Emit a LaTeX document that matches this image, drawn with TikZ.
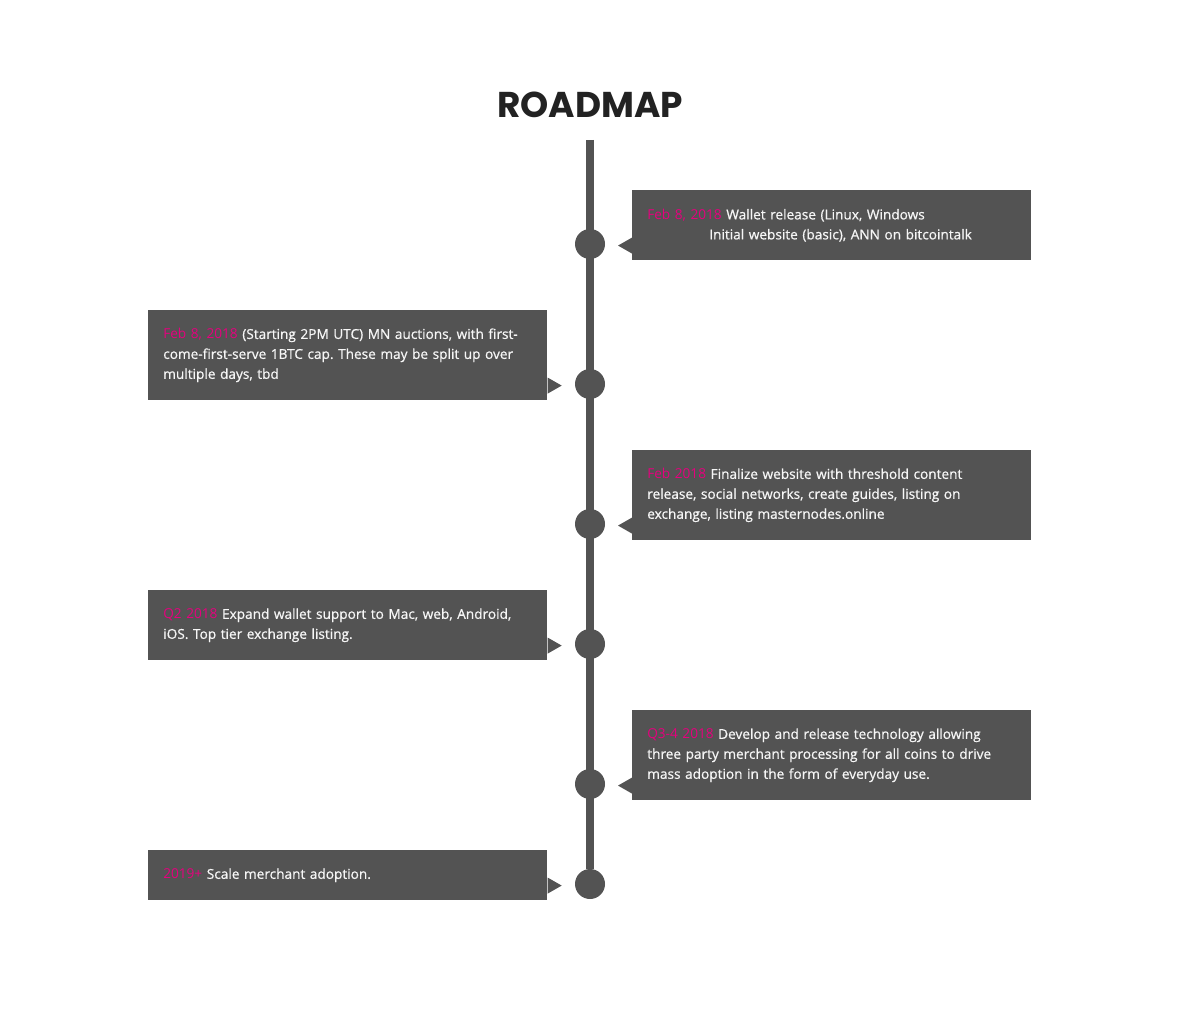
\documentclass[tikz,border=0pt]{standalone}
\usepackage{fontspec}
\setmainfont{Open Sans}
\newfontfamily\descfont{Open Sans}[FakeBold=0.7]
\newfontfamily\datefont{Open Sans}
\newfontfamily\titlefont{Poppins}
\usetikzlibrary{positioning}
\definecolor{RoadGrey}{RGB}{83,83,83}
\definecolor{DatePink}{RGB}{230,0,126}
\definecolor{TextWhite}{RGB}{246,246,246}
\definecolor{TitleBlack}{RGB}{34,34,34}
\newcommand{\when}[1]{{\datefont\textcolor{DatePink}{#1}}}

\begin{document}
\begin{tikzpicture}[x=0.025cm,y=-0.025cm,
    stepbox/.style={fill=RoadGrey,text=TextWhite,anchor=north west,inner xsep=0.375cm,inner ysep=0pt,
      text width=9.225cm,align=left,font=\descfont\frenchspacing\fontsize{9.7}{14.2}\selectfont},
    milestone/.style={circle,fill=RoadGrey,minimum size=0.75cm,inner sep=0pt}]
    \useasboundingbox (0,0) rectangle (1187,1016);
    \node[font=\titlefont\bfseries\fontsize{25.5}{30}\selectfont,text=TitleBlack] (title) at (590,105) {ROADMAP};
    % boxes
    \node[stepbox,minimum height=1.75cm] (s1) at (632,190) {\when{Feb 8, 2018} Wallet release (Linux, Windows\\\hspace*{1.55cm}Initial website (basic), ANN on bitcointalk};
    \node[stepbox,minimum height=2.25cm] (s2) at (148,310) {\when{Feb 8, 2018} (Starting 2PM UTC) MN auctions, with first-\\come-first-serve 1BTC cap. These may be split up over\\multiple days, tbd};
    \node[stepbox,minimum height=2.25cm] (s3) at (632,450) {\when{Feb 2018} Finalize website with threshold content\\release, social networks, create guides, listing on\\exchange, listing masternodes.online};
    \node[stepbox,minimum height=1.75cm] (s4) at (148,590) {\when{Q2 2018} Expand wallet support to Mac, web, Android,\\iOS. Top tier exchange listing.};
    \node[stepbox,minimum height=2.25cm] (s5) at (632,710) {\when{Q3-4 2018} Develop and release technology allowing\\three party merchant processing for all coins to drive\\mass adoption in the form of everyday use.};
    \node[stepbox,minimum height=1.25cm] (s6) at (148,850) {\when{2019+} Scale merchant adoption.};
    % pointers
    \foreach \s in {s1,s3,s5}
        \fill[RoadGrey] (\s.south west) ++(0,-7) -- ++(-14,-8) -- ++(14,-8) -- cycle;
    \foreach \s in {s2,s4,s6}
        \fill[RoadGrey] (\s.south east) ++(0,-7) -- ++(14,-8) -- ++(-14,-8) -- cycle;
    % timeline
    \coordinate (top) at (590,140);
    \node[milestone] (c1) at (590,244) {};
    \node[milestone] (c2) at (590,384) {};
    \node[milestone] (c3) at (590,524) {};
    \node[milestone] (c4) at (590,644) {};
    \node[milestone] (c5) at (590,784) {};
    \node[milestone] (c6) at (590,884) {};
    \draw[RoadGrey,line width=5pt] (top) -- (c6);
\end{tikzpicture}
\end{document}
